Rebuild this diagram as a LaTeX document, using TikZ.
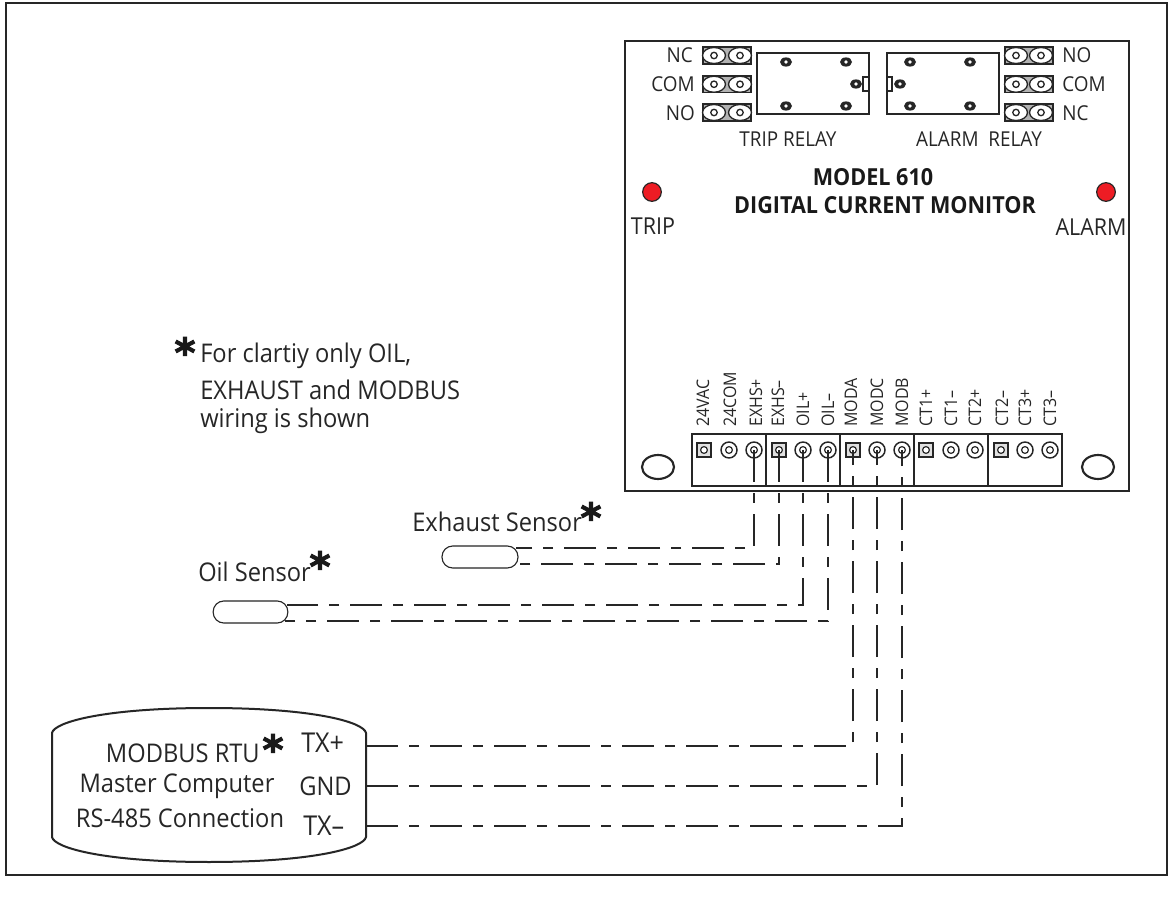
\documentclass[tikz,border=0pt]{standalone}
\usepackage{fontspec}
\usetikzlibrary{shapes.geometric}
\setmainfont[FakeStretch=0.92]{Open Sans}
\newfontfamily\astfont[FakeBold=2.5]{DejaVu Sans}
\definecolor{ledred}{HTML}{ED1C24}
\tikzset{
  frameline/.style={draw=black!85,line width=1.7pt},
  partline/.style={draw=black!85,line width=1.2pt},
  wire/.style={draw=black!85,line width=0.85pt,dash pattern=on 24pt off 8.25pt on 7.5pt off 8.25pt},
  lab/.style={inner sep=0pt,text=black!85,font=\fontsize{15.4}{18}\selectfont},
  big/.style={inner sep=0pt,text=black!85,font=\fontsize{19.3}{22}\selectfont},
  txlab/.style={inner sep=0pt,text=black!85,font=\fontsize{20.5}{22}\selectfont},
  boldlab/.style={inner sep=0pt,text=black!90,font=\bfseries\fontsize{17.6}{20}\selectfont},
  ledlab/.style={inner sep=0pt,text=black!85,font=\fontsize{17.5}{20}\selectfont},
  small/.style={inner sep=0pt,text=black!85,font=\fontsize{13}{15}\selectfont,rotate=90,anchor=west},
  ast/.style={inner sep=0pt,text=black!90,font=\astfont\bfseries\fontsize{30}{30}\selectfont},
  led/.style={circle,draw=black!85,line width=0.9pt,fill=ledred,minimum size=14pt,inner sep=0pt},
  sensor/.style={draw=black!85,line width=0.85pt,rounded corners=8pt},
  hole/.style={ellipse,draw=black!85,line width=1.6pt,fill=white,inner sep=0pt,minimum width=24pt,minimum height=18pt}
}
\begin{document}
\begin{tikzpicture}[x=0.75pt,y=-0.75pt]
\useasboundingbox (0,0) rectangle (1172,902);
\fill[white] (0,0) rectangle (1172,902);
\draw[frameline] (6,3) rectangle (1167,875);
\draw[frameline] (625,41) rectangle (1129,491);
% pin headers
\foreach \n/\xa/\xb/\xc/\xd in {l/703/751/714/740,r/1005/1053/1016/1041}{
  \foreach \m/\ya/\yb in {a/47/64,b/76/92.5,c/104/121}{
    \fill[black!30] (\xa,\ya) rectangle (\xb,\yb);
    \draw[partline] (\xa,\ya) rectangle (\xb,\yb);
    \pgfmathsetmacro{\ym}{(\ya+\yb)/2}
    \foreach \cx in {\xc,\xd}{
      \draw[black!85,line width=1pt,fill=white] (\cx,\ym) ellipse (11.5 and 8);
      \draw[black!85,line width=1pt,fill=white] (\cx,\ym) circle (3.2);
    }
  }
}
% relays
\draw[partline] (757,53) rectangle (869,114);
\draw[partline] (887,53) rectangle (999,114);
\draw[black!85,line width=.8pt] (863,77) rectangle (868.5,91);
\draw[black!85,line width=.8pt] (887.5,77) rectangle (892,91);
\foreach \p in {(786,62),(846,62),(856,84),(786,106),(846,106),(910,62),(970,62),(900,84),(910,106),(970,106)}{
  \fill[black!85] \p ellipse (6 and 4.6);
  \fill[white] \p circle (1.8);
}
\node[lab,anchor=east] (nc1) at (693,55) {NC};
\node[lab,anchor=east] (com1) at (695,84) {COM};
\node[lab,anchor=east] (no1) at (695,113) {NO};
\node[lab,anchor=west] (no2) at (1062,55) {NO};
\node[lab,anchor=west] (com2) at (1062,84) {COM};
\node[lab,anchor=west] (nc2) at (1062,113) {NC};
\node[lab] (tr) at (788,139) {TRIP RELAY};
\node[lab] (ar) at (979,139) {ALARM\ \ RELAY};
\node[boldlab] (m1) at (873,177) {MODEL 610};
\node[boldlab] (m2) at (885,205) {DIGITAL CURRENT MONITOR};
\node[led] (ledt) at (652,192) {};
\node[led] (leda) at (1106,192) {};
\node[ledlab] (ttrip) at (653,226) {TRIP};
\node[ledlab] (talarm) at (1091,227) {ALARM};
% mounting holes
\node[hole] (h1) at (658,467) {};
\node[hole] (h2) at (1098,467) {};
% terminal block
\draw[frameline,line width=1.4pt] (692,434) rectangle (1062,486);
\foreach \x in {766,840,914,988} \draw[frameline,line width=1.4pt] (\x,434) -- (\x,486);
\foreach \i/\x/\tx/\name in {1/704/703/24VAC,4/779/778/EXHS--,7/853/851/MODA,10/926/926/CT1+,13/1001/1002/CT2--}{
  \node[draw=black!85,line width=1.1pt,minimum size=10.5pt,inner sep=0pt,fill=black!12] (t\i) at (\x,450) {};
  \draw[black!85,line width=.9pt,fill=white] (\x,450) circle (3.4);
  \node[small] (n\i) at (\tx,427) {\name};
}
\foreach \i/\x/\tx/\name in {2/729/730/24COM,3/754/756/EXHS+,5/803/803/OIL+,6/828/828/OIL--,8/877/877/MODC,9/902/902/MODB,11/951/951/CT1--,12/975/975/CT2+,14/1025/1025/CT3+,15/1050/1050/CT3--}{
  \node[circle,draw=black!85,line width=1.1pt,minimum size=12pt,inner sep=0pt] (t\i) at (\x,450) {};
  \draw[black!85,line width=.9pt,fill=white] (\x,450) circle (3.4);
  \node[small] (n\i) at (\tx,427) {\name};
}
% sensors
\node[sensor,minimum width=57pt,minimum height=16.5pt,inner sep=0pt] (exh) at (480,557) {};
\node[sensor,minimum width=56pt,minimum height=16.5pt,inner sep=0pt] (oil) at (250.5,612) {};
\node[big,anchor=west] (exl) at (412,522) {Exhaust Sensor};
\node[big,anchor=west] (oill) at (198,572) {Oil Sensor};
% modbus
\draw[frameline,line width=1.5pt] (52,733) .. controls (54,722) and (105,708) .. (209,708)
  .. controls (313,708) and (364,722) .. (366,733) -- (366,837)
  .. controls (364,848) and (313,862) .. (209,862)
  .. controls (105,862) and (54,848) .. (52,837) -- cycle;
\coordinate (txp) at (366,746);
\coordinate (gnd) at (366,786);
\coordinate (txm) at (366,826);
\coordinate (e1) at (516,548);
\coordinate (e2) at (516,564);
\coordinate (o1) at (287,605);
\coordinate (o2) at (285,621);
\node[big,anchor=east] (rtu) at (260,753) {MODBUS RTU};
\node[big] (mc) at (177,786) {Master Computer};
\node[big] (rs) at (180,818) {RS-485 Connection};
\node[txlab,anchor=west] (l1) at (301,743) {TX+};
\node[big,anchor=west] (l2) at (299,786) {GND};
\node[txlab,anchor=west] (l3) at (303,826) {TX--};
% note
\node[big,anchor=west] (f1) at (200,356) {For clartiy only OIL,};
\node[big,anchor=west] (f2) at (200,390) {EXHAUST and MODBUS};
\node[big,anchor=west] (f3) at (200,421) {wiring is shown};
% asterisks
\node[ast] (a1) at (185,352) {*};
\node[ast] (a2) at (591,517) {*};
\node[ast] (a3) at (320,566) {*};
\node[ast] (a4) at (273,749) {*};
% wires
\draw[wire] (t3.center) |- (e1);
\draw[wire] (t4.center) |- (e2);
\draw[wire] (t5.center) |- (o1);
\draw[wire] (t6.center) |- (o2);
\draw[wire] (txp) -| (t7.center);
\draw[wire] (gnd) -| (t8.center);
\draw[wire] (txm) -| (t9.center);
\end{tikzpicture}
\end{document}
